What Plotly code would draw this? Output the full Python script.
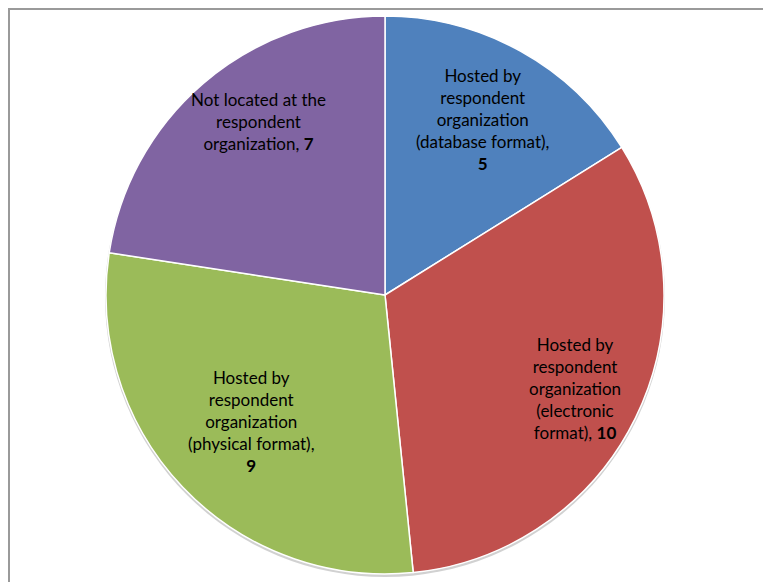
import math
import plotly.graph_objects as go

categories = [
    "Hosted by respondent organization (database format)",
    "Hosted by respondent organization (electronic format)",
    "Hosted by respondent organization (physical format)",
    "Not located at the respondent organization",
]
wrapped = [
    "Hosted by<br>respondent<br>organization<br>(database format),<br>",
    "Hosted by<br>respondent<br>organization<br>(electronic<br>format), ",
    "Hosted by<br>respondent<br>organization<br>(physical format),<br>",
    "Not located at the<br>respondent<br>organization, ",
]
values = [5, 10, 9, 7]
colors = ["#4F81BD", "#C0504D", "#9BBB59", "#8064A2"]
# radial position of each data label (fraction of the radius)
label_radius = [0.72, 0.76, 0.66, 0.77]
label_angle_shift = [0.0, 0.0, 0.0, 4.5]

W, H = 763, 582
cx, cy, r = 385, 295, 279

fig = go.Figure(go.Pie(
    labels=categories,
    values=values,
    textinfo="none",
    sort=False,
    direction="clockwise",
    rotation=0,
    marker=dict(colors=colors, line=dict(color="white", width=1.5)),
    showlegend=False,
    hoverinfo="label+value",
    domain=dict(x=[(cx - r) / W, (cx + r) / W], y=[(H - cy - r) / H, (H - cy + r) / H]),
))

# data labels placed at the mid-angle of each slice
total = sum(values)
annotations = []
cum = 0
for txt, v, f, sh in zip(wrapped, values, label_radius, label_angle_shift):
    mid = (cum + v / 2) / total * 2 * math.pi + math.radians(sh)
    cum += v
    px = cx + f * r * math.sin(mid)
    py = cy - f * r * math.cos(mid)
    annotations.append(dict(
        x=px / W, y=1 - py / H, xref="paper", yref="paper",
        text=f"{txt}<b>{v}</b>", showarrow=False, align="center",
        xanchor="center", yanchor="middle",
        font=dict(family="Lato, Carlito, sans-serif", size=17, color="black"),
    ))

fig.update_layout(
    width=W, height=H,
    margin=dict(l=0, r=0, t=0, b=0),
    paper_bgcolor="white",
    plot_bgcolor="white",
    annotations=annotations,
    shapes=[
        dict(type="rect", xref="paper", yref="paper",
             x0=9 / W, x1=1.05, y0=-0.05, y1=1 - 9 / H,
             line=dict(color="#9A9A9A", width=2), layer="below"),
        dict(type="circle", xref="paper", yref="paper",
             x0=(cx - r - 1) / W, x1=(cx + r + 1) / W,
             y0=(H - cy - r - 3) / H, y1=(H - cy + r - 1) / H,
             fillcolor="rgba(0,0,0,0.18)", line=dict(width=0), layer="below"),
    ],
)

fig.write_html("out.html")
